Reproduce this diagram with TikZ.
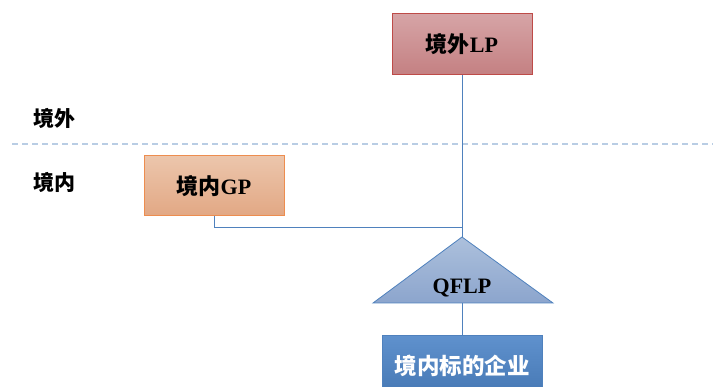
\documentclass[tikz,border=0pt]{standalone}
\usepackage{fontspec}
\setmainfont{Liberation Serif}
\newfontfamily\cjk{Noto Sans CJK SC}
\usetikzlibrary{positioning}
\definecolor{lpfill1}{RGB}{214,164,166}
\definecolor{lpfill2}{RGB}{196,128,130}
\definecolor{lpborder}{RGB}{190,75,72}
\definecolor{gpfill1}{RGB}{236,198,172}
\definecolor{gpfill2}{RGB}{226,168,132}
\definecolor{gpborder}{RGB}{237,141,79}
\definecolor{qfill1}{RGB}{172,192,220}
\definecolor{qfill2}{RGB}{140,165,205}
\definecolor{qborder}{RGB}{79,129,189}
\definecolor{bfill1}{RGB}{95,145,205}
\definecolor{bfill2}{RGB}{70,120,180}
\definecolor{dashc}{RGB}{185,205,228}
\definecolor{linec}{RGB}{79,129,189}
\tikzset{
  lpbox/.style={draw=lpborder, line width=1pt, top color=lpfill1, bottom color=lpfill2, minimum width=140pt, minimum height=61pt, inner sep=0pt, font=\bfseries\fontsize{22}{26}\selectfont},
  gpbox/.style={draw=gpborder, line width=1pt, top color=gpfill1, bottom color=gpfill2, minimum width=140pt, minimum height=60pt, inner sep=0pt, font=\bfseries\fontsize{22}{26}\selectfont},
  entbox/.style={draw=qborder, line width=1pt, top color=bfill1, bottom color=bfill2, minimum width=160pt, minimum height=60pt, inner sep=0pt, text=white, font=\bfseries\fontsize{22.5}{26}\selectfont},
  region/.style={font=\bfseries\fontsize{21}{24}\selectfont},
  conn/.style={draw=linec, line width=0.8pt},
}
\begin{document}
\begin{tikzpicture}[x=1pt,y=-1pt]
\useasboundingbox (0,0) rectangle (713,387);
\node[lpbox] (lp) at (462,44.5) {{\cjk 境外}LP};
\node[gpbox] (gp) at (214,186) {{\cjk 境内}GP};
\node[entbox, anchor=north] (ent) at (462,335) {\cjk 境内标的企业};
\node[region] (out) at (55,118) {\cjk 境外};
\node[region] (in) at (55,182) {\cjk 境内};
\coordinate (dl) at (12,144);
\coordinate (dr) at (713,144);
\draw[dashc, line width=1.5pt, dash pattern=on 6pt off 4pt] (dl) -- (dr);
% triangle
\coordinate (apex) at (462,237);
\coordinate (bl) at (373,303);
\coordinate (br) at (553,303);
\coordinate (bm) at (462,303);
\path[draw=qborder, line width=0.8pt, top color=qfill1, bottom color=qfill2] (apex) -- (br) -- (bl) -- cycle;
\node[font=\bfseries\fontsize{22}{26}\selectfont] (q) at (462,288) {QFLP};
\coordinate (jn) at (462,227);
\draw[conn] (lp.south) -- (apex);
\draw[conn] (gp.south) |- (jn);
\draw[conn] (bm) -- (ent.north);
\end{tikzpicture}
\end{document}
